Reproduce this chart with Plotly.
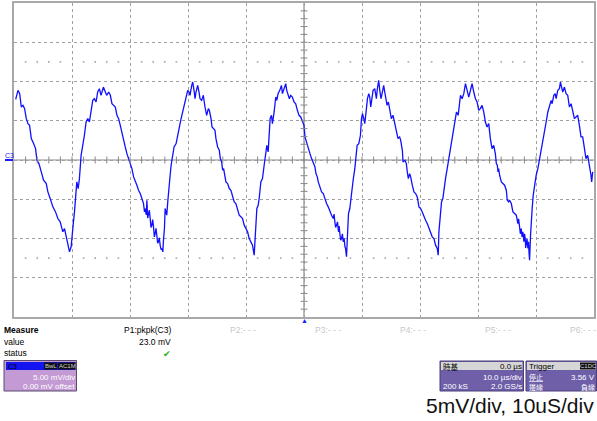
import plotly.graph_objects as go

# ---------------- data ----------------
# time in microseconds (10 us/div, centre = 0), voltage in mV (5 mV/div)
t_us = [
    -49.71, -49.31, -49.02, -48.74, -48.45, -48.17, -47.88, -47.59, -47.31, -47.02,
    -46.62, -46.28, -46.05, -45.70, -45.30, -44.90, -44.44, -44.16, -43.76, -43.30,
    -42.84, -42.44, -42.04, -41.58, -41.29, -41.01, -40.72, -40.43, -40.15, -39.98,
    -39.75, -39.57, -39.40, -39.17, -38.94, -38.72, -38.43, -38.14, -37.86, -37.57,
    -37.28, -37.00, -36.71, -36.42, -36.14, -35.85, -35.57, -35.28, -34.99, -34.59,
    -34.25, -34.02,
    -33.68, -33.39, -33.11, -32.82, -32.53, -32.25, -31.96, -31.68, -31.39, -31.10,
    -30.82, -30.53, -30.24, -29.96, -29.67, -29.38, -29.10, -28.81, -28.53, -28.24,
    -27.95, -27.67, -27.50, -27.38, -27.20, -27.09, -26.95, -26.81, -26.66, -26.52,
    -26.38, -26.23, -26.09, -25.95, -25.80, -25.66, -25.52, -25.38, -25.23, -25.09,
    -24.95, -24.80, -24.66, -24.52, -24.34, -24.23, -24.06, -23.94, -23.66, -23.49,
    -23.26, -23.08, -22.91, -22.68, -22.40, -22.05, -21.77, -21.54, -21.19, -20.79,
    -20.51, -20.22, -20.05, -19.82, -19.65, -19.36, -19.19, -18.96, -18.79, -18.62,
    -18.33, -18.10, -17.93, -17.64, -17.36, -17.07, -16.78, -16.50,
    -16.32, -16.03, -15.86, -15.58, -15.35, -15.18, -14.89, -14.60, -14.43, -14.20,
    -14.03, -13.86, -13.63, -13.46, -13.17, -12.88, -12.60, -12.31, -12.03, -11.74,
    -11.45, -11.17, -10.88, -10.59, -10.31, -10.02, -9.73, -9.45, -9.16, -8.88,
    -8.59, -8.47, -8.36, -8.25, -8.13, -7.90, -7.73, -7.44, -7.16, -6.87,
    -6.58, -6.41, -6.18, -6.01, -5.84, -5.61, -5.44, -5.15, -4.87, -4.69,
    -4.47, -4.18, -3.89, -3.72, -3.43, -3.15, -2.98, -2.75, -2.52, -2.29,
    -2.00, -1.72, -1.43, -1.14, -0.86, -0.57, -0.28, 0.00,
    0.17, 0.46, 0.74, 1.03, 1.31, 1.60, 1.89, 2.06, 2.29, 2.46,
    2.75, 3.03, 3.32, 3.61, 3.89, 4.18, 4.46, 4.75, 5.04, 5.18,
    5.32, 5.46, 5.61, 5.78, 5.95, 6.06, 6.18, 6.32, 6.47, 6.62,
    6.76, 6.93, 7.05, 7.16, 7.33, 7.50, 7.67, 7.90, 8.07, 8.30,
    8.47, 8.76, 8.93, 9.16, 9.45, 9.73, 9.91, 10.08, 10.31, 10.48,
    10.76, 10.94, 11.17, 11.34, 11.51, 11.74, 11.91, 12.20, 12.48, 12.65,
    12.88, 13.06, 13.28, 13.51, 13.74, 13.92, 14.09, 14.32, 14.55, 14.78,
    15.06, 15.35, 15.63, 15.92, 16.21, 16.49,
    16.67, 16.96, 17.07, 17.41, 17.64, 17.81, 17.99, 18.22, 18.39, 18.67,
    18.96, 19.25, 19.53, 19.82, 20.11, 20.39, 20.68, 20.96, 21.25, 21.54,
    21.82, 22.11, 22.40, 22.68, 22.97, 23.14, 23.26, 23.43, 23.54, 23.71,
    23.94, 24.11, 24.40, 24.69, 24.97, 25.26, 25.55, 25.83, 26.12, 26.29,
    26.58, 26.81, 26.98, 27.26, 27.55, 27.84, 28.12, 28.41, 28.70, 28.98,
    29.27, 29.56, 29.84, 30.13, 30.41, 30.70, 30.99, 31.27, 31.56, 31.85,
    32.13, 32.42, 32.71, 32.99,
    33.16, 33.33, 33.45, 33.56, 33.73, 34.02, 34.30, 34.59, 34.88, 35.05,
    35.28, 35.45, 35.74, 36.02, 36.31, 36.60, 36.88, 37.00, 37.17, 37.30,
    37.45, 37.60, 37.74, 37.91, 38.02, 38.14, 38.22, 38.31, 38.45, 38.60,
    38.71, 38.80, 38.89, 39.06, 39.17, 39.34, 39.52, 39.75, 40.03, 40.32,
    40.60, 40.89, 41.18, 41.46, 41.75, 42.04, 42.32, 42.61, 42.78, 43.07,
    43.30, 43.47, 43.75, 44.04, 44.21, 44.44, 44.61, 44.90, 45.19, 45.47,
    45.76, 46.05, 46.33, 46.62, 46.90, 47.19, 47.48, 47.76, 48.05, 48.34,
    48.62, 48.91, 49.20, 49.48, 49.60, 49.77,
]
v_mV = [
    7.73, 8.87, 8.45, 6.75, 6.96, 6.54, 5.27, 4.63, 4.42, 2.72,
    2.09, 1.45, -0.03, -0.46, -1.52, -2.58, -3.00, -4.06, -4.91, -5.97,
    -6.61, -7.46, -7.88, -9.15, -8.73, -9.79, -10.64, -11.70, -11.06, -10.00,
    -7.88, -6.61, -4.91, -2.79, -3.64, -2.37, 0.60, 1.66, 3.15, 4.84,
    5.27, 4.84, 6.54, 7.60, 7.81, 7.39, 8.66, 9.08, 8.24, 9.29,
    8.66, 8.24,
    8.66, 8.24, 7.17, 6.96, 6.75, 5.69, 5.27, 4.42, 3.36, 2.51,
    1.66, 0.81, 0.18, -0.46, -1.09, -2.15, -2.58, -3.21, -3.85, -4.27,
    -4.91, -5.55, -6.60, -6.18, -7.00, -5.12, -7.40, -7.03, -6.40, -7.46,
    -8.60, -8.30, -7.60, -8.52, -9.80, -9.36, -8.70, -9.58, -10.60, -10.42,
    -9.90, -10.85, -11.40, -11.27, -11.70, -10.21, -8.73, -6.18, -7.03, -5.34,
    -2.79, -1.94, -0.67, 0.39, 1.66, 2.09, 2.94, 4.00, 5.27, 6.54,
    7.17, 8.24, 8.87, 8.66, 8.24, 9.51, 9.93, 8.87, 7.81, 8.66,
    9.51, 8.66, 7.81, 7.60, 8.24, 6.75, 5.69, 6.54,
    6.33, 5.27, 4.21, 3.99, 3.78, 2.72, 1.66, 1.24, 0.18, -0.25,
    -1.31, -1.09, -1.94, -2.79, -3.00, -3.64, -3.85, -4.49, -5.34, -5.55,
    -6.18, -7.03, -7.24, -7.46, -8.30, -8.73, -9.15, -10.00, -10.42, -10.85,
    -12.12, -10.42, -8.73, -7.46, -6.18, -5.76, -4.91, -2.79, -2.37, -0.67,
    0.60, 1.87, 1.03, 2.94, 5.27, 5.69, 4.63, 6.12, 8.02, 7.60,
    8.45, 8.87, 9.51, 8.45, 9.29, 9.72, 8.87, 8.45, 7.81, 8.24,
    8.02, 7.39, 7.17, 6.33, 5.69, 5.48, 4.84, 4.42,
    2.94, 2.09, 1.66, 0.81, 0.18, -0.46, -0.88, -1.73, -2.15, -2.79,
    -3.43, -4.06, -4.27, -5.12, -5.55, -5.97, -6.61, -7.03, -7.46, -6.90,
    -7.88, -8.60, -8.30, -7.88, -9.15, -8.40, -9.36, -10.20, -10.00, -9.40,
    -10.42, -10.00, -11.00, -11.27, -12.33, -9.58, -6.82, -6.18, -4.91, -3.64,
    -2.58, -1.09, 0.18, 1.87, 2.09, 3.15, 5.27, 5.90, 5.27, 4.63,
    6.54, 7.81, 8.45, 8.02, 6.75, 8.24, 8.87, 9.08, 7.81, 9.08,
    10.14, 8.87, 7.81, 8.66, 9.51, 8.66, 7.81, 6.96, 7.39, 6.54,
    5.27, 5.69, 4.84, 3.99, 2.72, 2.94,
    2.51, 1.24, -0.25, -0.03, -0.46, -1.52, -2.37, -1.73, -2.15, -3.21,
    -4.06, -4.27, -4.70, -5.97, -6.18, -6.61, -7.24, -7.67, -8.09, -8.73,
    -9.15, -9.79, -10.00, -10.85, -11.27, -12.12, -9.15, -7.46, -6.18, -5.34,
    -4.91, -3.64, -2.37, -1.09, 0.18, 1.45, 2.51, 3.99, 5.27, 6.12,
    5.69, 7.17, 8.24, 7.81, 8.45, 9.72, 8.87, 8.02, 8.87, 9.72,
    8.66, 7.81, 7.39, 6.33, 6.54, 6.96, 6.12, 4.84, 4.21, 4.63,
    2.72, 1.45, 1.87, 0.81,
    -0.46, -0.67, -1.52, -1.09, -1.94, -2.79, -3.00, -3.21, -3.85, -5.12,
    -5.34, -5.12, -5.55, -6.61, -6.82, -7.03, -8.09, -7.50, -8.52, -9.40,
    -8.73, -9.80, -9.15, -10.42, -9.40, -10.00, -11.20, -10.85, -10.00, -11.27,
    -10.42, -11.80, -12.76, -9.58, -7.88, -6.18, -4.49, -3.21, -1.94, -1.09,
    0.18, 1.45, 2.72, 3.99, 4.84, 6.12, 6.96, 7.60, 7.17, 8.24,
    8.45, 7.81, 8.87, 9.08, 9.93, 9.29, 8.66, 9.29, 8.45, 8.24,
    6.75, 7.17, 6.33, 5.27, 5.48, 5.69, 4.42, 2.94, 2.94, 1.45,
    0.18, 0.60, -0.46, -1.94, -2.79, -1.52,
]

# screen settings
t_range = [-50, 50]      # us (10 divisions x 10 us/div)
v_range = [-20, 20]      # mV (8 divisions x 5 mV/div)
t_minor = [t / 10 for t in range(-480, 500, 20)]        # 2 us sub-ticks
v_minor = [v for v in range(-19, 20)]                    # 1 mV sub-ticks
dot_t = [t for t in t_minor if abs(t % 10) > 1e-6 and abs(t % 10 - 10) > 1e-6]
dot_v = [12.5, -12.5]

measure_labels = ["P1:pkpk(C3)", "P2:- - -", "P3:- - -", "P4:- - -", "P5:- - -", "P6:- - -"]
measure_value = "23.0 mV"

W, H = 597, 421
FONT = "Liberation Sans, Arial, sans-serif"
CJK = "Noto Sans CJK TC, Liberation Sans, sans-serif"


def px(x):
    return x / W


def py(y):
    return 1 - y / H


fig = go.Figure()

# waveform
fig.add_trace(go.Scatter(x=t_us, y=v_mV, mode="lines",
                         line=dict(color="#1010ff", width=1.3),
                         hoverinfo="skip", showlegend=False))

# centre axis ticks
fig.add_trace(go.Scatter(x=t_minor, y=[0] * len(t_minor), mode="markers",
                         marker=dict(symbol="line-ns", size=5,
                                     line=dict(color="#8a8a8a", width=1)),
                         hoverinfo="skip", showlegend=False))
fig.add_trace(go.Scatter(x=[0] * len(v_minor), y=v_minor, mode="markers",
                         marker=dict(symbol="line-ew", size=5,
                                     line=dict(color="#8a8a8a", width=1)),
                         hoverinfo="skip", showlegend=False))
# dotted rows
for dv in dot_v:
    fig.add_trace(go.Scatter(x=dot_t, y=[dv] * len(dot_t), mode="markers",
                             marker=dict(symbol="square", size=1.6, color="#a8a8a8"),
                             hoverinfo="skip", showlegend=False))

shapes = []
# centre lines
shapes.append(dict(type="line", xref="x", yref="y", x0=t_range[0], x1=t_range[1], y0=0, y1=0,
                   line=dict(color="#8a8a8a", width=1.2), layer="below"))
shapes.append(dict(type="line", xref="x", yref="y", x0=0, x1=0, y0=v_range[0], y1=v_range[1],
                   line=dict(color="#8a8a8a", width=1.2), layer="below"))

# ground marker on the left
shapes.append(dict(type="line", xref="paper", yref="paper", x0=px(5), x1=px(13), y0=py(160), y1=py(160),
                   line=dict(color="#1a1aff", width=2)))


def rect(x0, y0, x1, y1, fill, line=None, lw=0):
    shapes.append(dict(type="rect", xref="paper", yref="paper",
                       x0=px(x0), x1=px(x1), y0=py(y0), y1=py(y1),
                       fillcolor=fill, line=dict(color=line or fill, width=lw)))


# C3 channel box
rect(4, 360.5, 76.5, 391, "#c39ad3", "#5a4a70", 1)
rect(6, 362, 75.5, 370, "#1414f0")
rect(44, 362.5, 57, 369.5, "#101010")
rect(58, 362.5, 75.5, 369.5, "#101010")
# timebase box
rect(440, 361, 523.5, 391, "#6f5fa9", "#4a3f7a", 1)
rect(441, 362, 522.5, 370, "#d6d6d6")
# trigger box
rect(526, 361, 596.5, 391, "#6f5fa9", "#4a3f7a", 1)
rect(527, 362, 595.5, 370, "#d6d6d6")
rect(580, 362.5, 595.5, 369.5, "#101010")

annotations = []


def text(x, y, s, anchor="left", size=8.5, color="#000000", bold=False, family=FONT):
    if bold:
        s = "<b>" + s + "</b>"
    annotations.append(dict(x=px(x), y=py(y), xref="paper", yref="paper", text=s,
                            showarrow=False, xanchor=anchor, yanchor="middle",
                            borderpad=0,
                            font=dict(size=size, color=color, family=family)))


text(4, 155, "C3", size=7, color="#1a1aff")
text(304, 320.5, "▲", anchor="center", size=7, color="#1a1aff")

text(3, 330, "Measure", size=8.5, bold=True)
text(3, 341.5, "value")
text(3, 353, "status")
text(172.5, 330, measure_labels[0], anchor="right")
text(172.5, 341.5, measure_value, anchor="right")
text(172.5, 354, "✔", anchor="right", size=9, color="#22b422")
for i, lab in enumerate(measure_labels[1:]):
    text(257 + 85 * i, 330, lab, anchor="right", color="#c8c8c8")

# C3 box texts
text(7, 366, "C3", size=7, color="#000000")
text(50.5, 366, "BwL", anchor="center", size=6, color="#d0d0d0")
text(67, 366, "AC1M", anchor="center", size=6, color="#d0d0d0")
text(75.5, 377, "5.00 mV/div", anchor="right", size=8, color="#ffffff")
text(75.5, 386, "0.00 mV offset", anchor="right", size=8, color="#ffffff")

# timebase texts
text(441.5, 366, "時基", size=7.5, family=CJK)
text(522.5, 366, "0.0 µs", anchor="right", size=8)
text(522.5, 377, "10.0 µs/div", anchor="right", size=8, color="#ffffff")
text(441.5, 386, "200 kS", size=8, color="#ffffff")
text(522.5, 386, "2.0 GS/s", anchor="right", size=8, color="#ffffff")

# trigger texts
text(527.5, 366, "Trigger", size=8)
text(588, 366, "C1DC", anchor="center", size=6, color="#d0d0d0")
text(527.5, 376.5, "<u>停止</u>", size=7, color="#ffffff", family=CJK)
text(595.5, 377, "3.56 V", anchor="right", size=8, color="#ffffff")
text(527.5, 387, "邊緣", size=7, color="#ffffff", family=CJK)
text(595.5, 387, "負緣", anchor="right", size=7, color="#ffffff", family=CJK)

# caption
text(595, 405, "5mV/div, 10uS/div", anchor="right", size=21, color="#111111")

grid = dict(showgrid=True, gridcolor="#a0a0a0", gridwidth=1, griddash="dot",
            zeroline=False, showticklabels=False, ticks="",
            showline=True, linecolor="#a8a8a8", linewidth=1.5, mirror=True, fixedrange=True)

fig.update_layout(
    width=W, height=H,
    margin=dict(l=0, r=0, t=0, b=0, pad=0),
    paper_bgcolor="#ffffff", plot_bgcolor="#ffffff",
    xaxis=dict(domain=[px(14), px(594)], range=t_range, dtick=10, tick0=0, **grid),
    yaxis=dict(domain=[py(317), py(3)], range=v_range, dtick=5, tick0=0, **grid),
    shapes=shapes,
    annotations=annotations,
    showlegend=False,
)

fig.write_html(
    "out.html",
    config={"displayModeBar": False},
    post_script="document.body.style.margin='0';document.body.style.padding='0';"
                "document.body.style.overflow='hidden';",
)
